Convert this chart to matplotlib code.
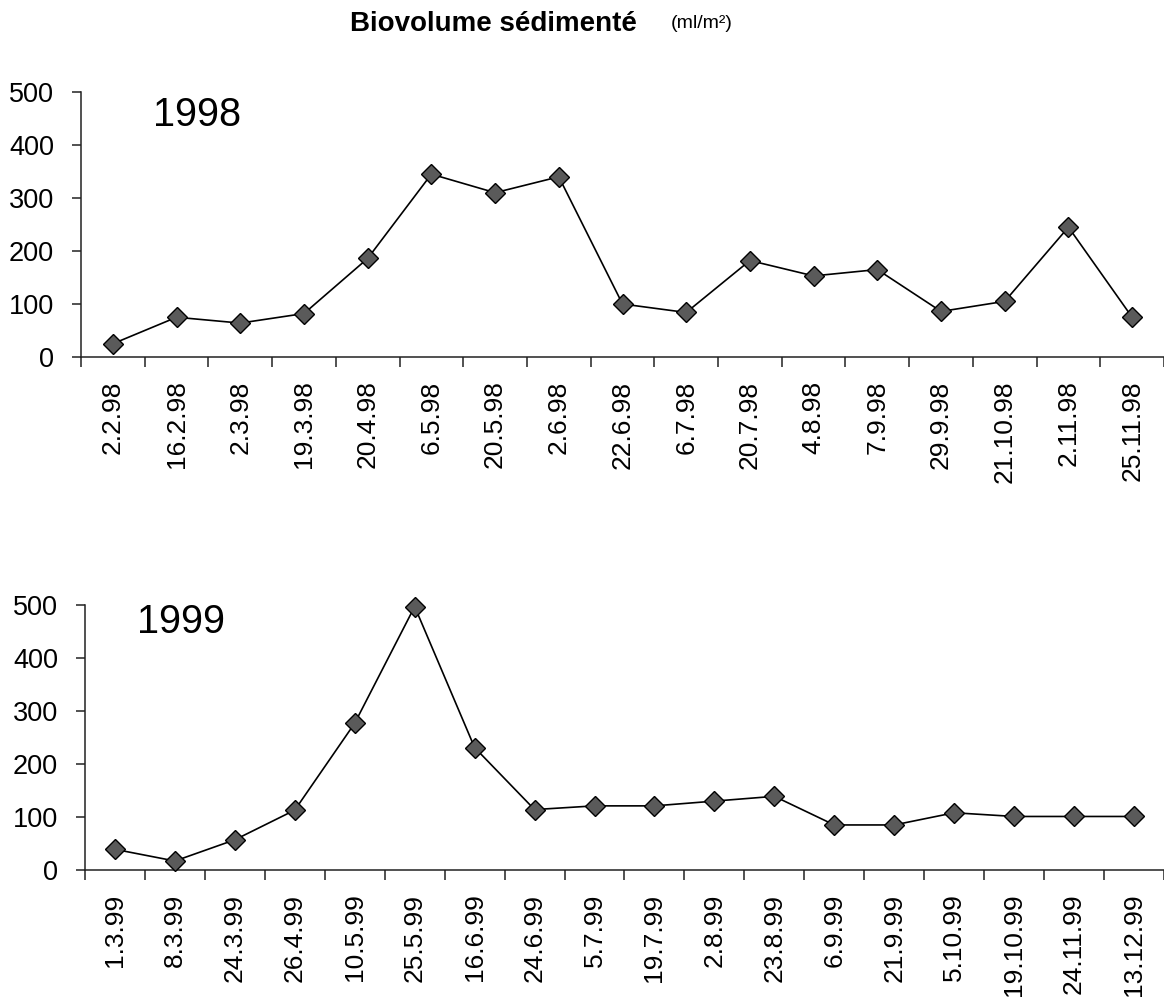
import numpy as np
import matplotlib
matplotlib.use("Agg")
import matplotlib.pyplot as plt
from matplotlib.ticker import FixedLocator

plt.rcParams['font.family'] = ['Liberation Sans', 'DejaVu Sans']

# sampling dates and settled biovolume (ml/m2)
dates_98 = ["2.2.98", "16.2.98", "2.3.98", "19.3.98", "20.4.98", "6.5.98",
            "20.5.98", "2.6.98", "22.6.98", "6.7.98", "20.7.98", "4.8.98",
            "7.9.98", "29.9.98", "21.10.98", "2.11.98", "25.11.98"]
vol_98 = [25, 75, 64, 82, 186, 345, 310, 340, 100, 84, 182, 153, 165, 86,
          105, 245, 75]

dates_99 = ["1.3.99", "8.3.99", "24.3.99", "26.4.99", "10.5.99", "25.5.99",
            "16.6.99", "24.6.99", "5.7.99", "19.7.99", "2.8.99", "23.8.99",
            "6.9.99", "21.9.99", "5.10.99", "19.10.99", "24.11.99", "13.12.99"]
vol_99 = [39, 17, 57, 113, 277, 497, 231, 114, 121, 121, 130, 139, 85, 85,
          108, 101, 101, 101]

y_ticks = [0, 100, 200, 300, 400, 500]

fig = plt.figure(figsize=(11.64, 10), dpi=100)
ax1 = fig.add_axes([0.0696, 0.643, 0.9304, 0.265])
ax2 = fig.add_axes([0.073, 0.130, 0.927, 0.265])


def draw_panel(ax, dates, vals, year, year_xy):
    n = len(dates)
    x = np.arange(n)
    ax.plot(x, vals, color='black', lw=1.2, marker='D', markersize=10.5,
            markerfacecolor='#5a5a5a', markeredgecolor='black',
            markeredgewidth=1.0, clip_on=False, zorder=3)
    ax.set_xlim(-0.5, n - 0.5)
    ax.set_ylim(0, 500)
    ax.set_yticks(y_ticks)
    ax.set_xticks(x)
    ax.set_xticklabels(dates, rotation=90, fontsize=19)
    ax.xaxis.set_minor_locator(FixedLocator(np.arange(n + 1) - 0.5))
    ax.tick_params(axis='x', which='major', length=0, pad=17)
    ax.tick_params(axis='x', which='minor', length=7, width=1.1,
                   direction='out', color='#222222')
    ax.tick_params(axis='y', length=6.5, width=1.1, direction='out',
                   labelsize=19.5, pad=13, color='#222222')
    for side in ['top', 'right']:
        ax.spines[side].set_visible(False)
    for side in ['left', 'bottom']:
        ax.spines[side].set_linewidth(1.1)
        ax.spines[side].set_color('#222222')
    ax.text(year_xy[0], year_xy[1], year, fontsize=28.5,
            ha='center', va='center', transform=fig.transFigure)


draw_panel(ax1, dates_98, vol_98, "1998", (197 / 1164, 1 - 115 / 1000))
draw_panel(ax2, dates_99, vol_99, "1999", (181 / 1164, 1 - 622 / 1000))

fig.text(350 / 1164, 1 - 24 / 1000, "Biovolume sédimenté", fontsize=20,
         fontweight='bold', ha='left', va='center')
fig.text(671 / 1164, 1 - 24 / 1000, "(ml/m²)", fontsize=14,
         ha='left', va='center')

fig.savefig("out.png", dpi=100)
